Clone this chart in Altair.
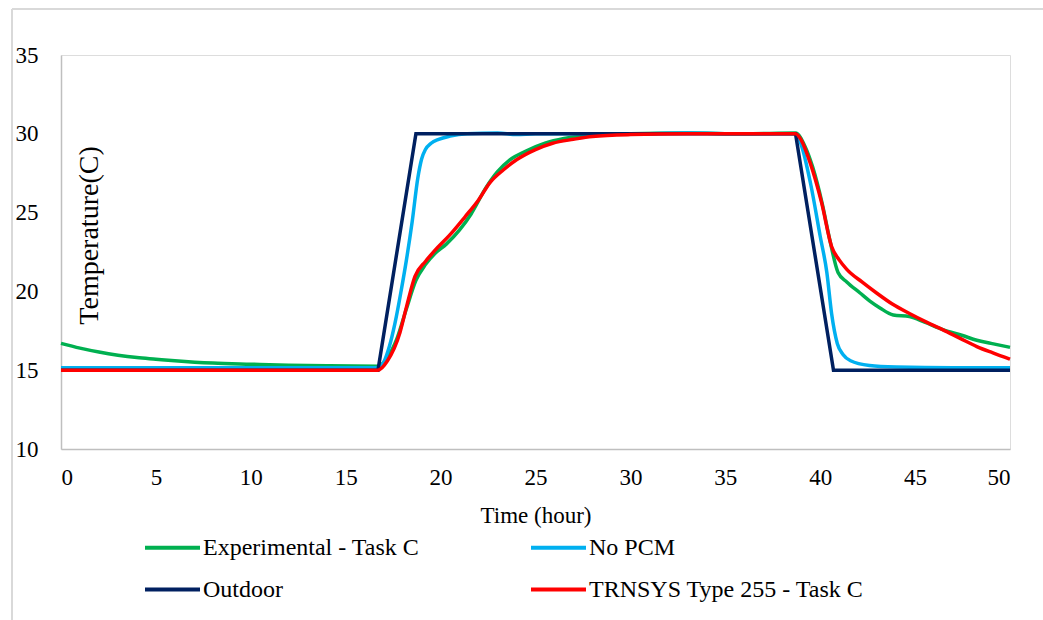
import altair as alt
import pandas as pd

series_names = ["Experimental - Task C", "No PCM", "Outdoor", "TRNSYS Type 255 - Task C"]
series_colors = ["#00B050", "#00B0F0", "#002060", "#FF0000"]

time_exp = [0, 1, 2, 3, 4, 5, 6, 8, 10, 12, 14, 16.7, 17.2, 17.7, 18.2, 18.7, 19.2, 19.7,
            20.3, 21.0, 21.6, 22.4, 23.0, 23.65, 24.5, 25.5, 26.5, 28, 30, 33, 36, 38.7,
            39.2, 39.6, 40.1, 40.5, 40.94, 41.4, 42.1, 42.6, 43.15, 43.85, 44.7, 45.5,
            46.5, 47.5, 48.25, 49, 50]
temp_exp = [16.7, 16.4, 16.15, 15.95, 15.8, 15.7, 15.6, 15.45, 15.38, 15.32, 15.28, 15.25,
            15.8, 17.0, 18.9, 20.7, 21.7, 22.4, 23.0, 23.9, 24.9, 26.6, 27.6, 28.35, 28.9,
            29.4, 29.7, 29.9, 30.0, 30.05, 30.0, 30.05,
            29.2, 27.9, 25.6, 23.3, 21.2, 20.6, 19.9, 19.4, 18.95, 18.5, 18.4, 18.05,
            17.56, 17.2, 16.9, 16.7, 16.45]

time_nopcm = [0, 5, 10, 16.7, 17.0, 17.3, 17.6, 17.9, 18.2, 18.5, 18.8, 19.0, 19.2, 19.5,
              19.9, 20.5, 21.4, 23, 24, 25, 27, 30, 33, 36, 38.7, 39.0, 39.5, 40.0, 40.35,
              40.6, 40.9, 41.2, 41.6, 42.6, 44, 47, 50]
temp_nopcm = [15.15, 15.15, 15.15, 15.15, 15.5, 16.5, 18.0, 19.9, 22.0, 24.4, 27.2, 28.4,
              29.0, 29.4, 29.65, 29.85, 30.0, 30.05, 29.95, 30.0, 30.0, 30.0, 30.05, 30.0,
              30.0, 29.3, 26.8, 23.5, 21.2, 18.6, 16.7, 16.0, 15.6, 15.3, 15.2, 15.15, 15.15]

time_outdoor = [0, 16.7, 18.7, 38.7, 40.7, 50]
temp_outdoor = [15, 15, 30, 30, 15, 15]

time_trn = [0, 16.7, 17.2, 17.86, 18.2, 18.65, 19.2, 19.7, 20.5, 21.3, 22.0, 22.6, 23.3,
            24.0, 25.0, 25.9, 27, 28, 30, 33, 36, 38.7, 39.0, 39.46, 40.08, 40.6, 41.0,
            41.4, 42.2, 42.97, 43.8, 44.7, 45.6, 46.47, 47.4, 48.25, 49.1, 50]
temp_trn = [15.0, 15.0, 15.6, 17.4, 19.0, 20.95, 21.9, 22.6, 23.6, 24.75, 25.8, 26.9, 27.7,
            28.35, 29.0, 29.4, 29.65, 29.83, 29.95, 30.0, 30.0, 30.0, 29.6, 28.2, 25.6,
            22.85, 22.0, 21.4, 20.6, 19.9, 19.2, 18.6, 18.05, 17.56, 17.0, 16.5, 16.1, 15.7]

x_ticks = [0, 5, 10, 15, 20, 25, 30, 35, 40, 45, 50]
y_ticks = [10, 15, 20, 25, 30, 35]

FONT = "Liberation Serif"

def frame(name, t, v, order):
    return pd.DataFrame({"time": t, "temp": v, "series": name, "k": order})

df_smooth = pd.concat([
    frame(series_names[0], time_exp, temp_exp, 0),
    frame(series_names[1], time_nopcm, temp_nopcm, 1),
])
df_out = frame(series_names[2], time_outdoor, temp_outdoor, 2)
df_trn = frame(series_names[3], time_trn, temp_trn, 3)

color = alt.Color(
    "series:N",
    scale=alt.Scale(domain=series_names, range=series_colors),
    legend=alt.Legend(
        title=None, orient="none", legendX=82, legendY=463, columns=2,
        columnPadding=103, rowPadding=-9, symbolType="stroke", symbolSize=3025,
        symbolStrokeWidth=4, labelOffset=1, labelFont=FONT, labelFontSize=24,
        labelColor="black", labelLimit=500, direction="horizontal",
    ),
)

x = alt.X(
    "time:Q",
    scale=alt.Scale(domain=[0, 50], nice=False),
    axis=alt.Axis(
        values=x_ticks, title="Time (hour)", grid=False, ticks=False, tickSize=0,
        labelFont=FONT, labelFontSize=23, labelColor="black", labelBaseline="middle",
        labelPadding=28, domainColor="#bfbfbf", domainWidth=1.5,
        titleFont=FONT, titleFontSize=23, titleFontWeight="normal", titleColor="black",
        titleBaseline="middle", titleY=66,
    ),
)
y = alt.Y(
    "temp:Q",
    scale=alt.Scale(domain=[10, 35], nice=False),
    axis=alt.Axis(
        values=y_ticks, title="Temperature(C)", grid=False, ticks=False, tickSize=0,
        labelFont=FONT, labelFontSize=23, labelColor="black", labelPadding=23,
        domainColor="#bfbfbf", domainWidth=1.5,
        titleFont=FONT, titleFontSize=28, titleFontWeight="normal", titleColor="black",
        titleAngle=270, titleAlign="center", titleBaseline="bottom", titleX=42, titleY=180,
    ),
)

smooth = alt.Chart(df_smooth).mark_line(strokeWidth=3.5, interpolate="monotone").encode(
    x=x, y=y, color=color, detail="series:N", order="time:Q"
)
outdoor = alt.Chart(df_out).mark_line(strokeWidth=3.5).encode(
    x=x, y=y, color=color, order="time:Q"
)
trn = alt.Chart(df_trn).mark_line(strokeWidth=3.5, interpolate="monotone").encode(
    x=x, y=y, color=color, order="time:Q"
)

frame_df = pd.DataFrame({"a": [0]})
border_left = alt.Chart(frame_df).mark_rule(color="#d9d9d9", strokeWidth=2).encode(
    x=alt.value(-49), y=alt.value(-46), y2=alt.value(600)
)
border_top = alt.Chart(frame_df).mark_rule(color="#d9d9d9", strokeWidth=2).encode(
    x=alt.value(-49), x2=alt.value(1000), y=alt.value(-46)
)

chart = alt.layer(border_left, border_top, smooth, outdoor, trn).properties(
    width=949, height=394,
    autosize=alt.AutoSizeParams(type="none"),
    padding={"left": 61, "top": 55, "right": 33, "bottom": 171},
).configure_view(stroke=None).configure(background="white")

chart.save("out.html", embed_options={"renderer": "svg", "actions": False})
